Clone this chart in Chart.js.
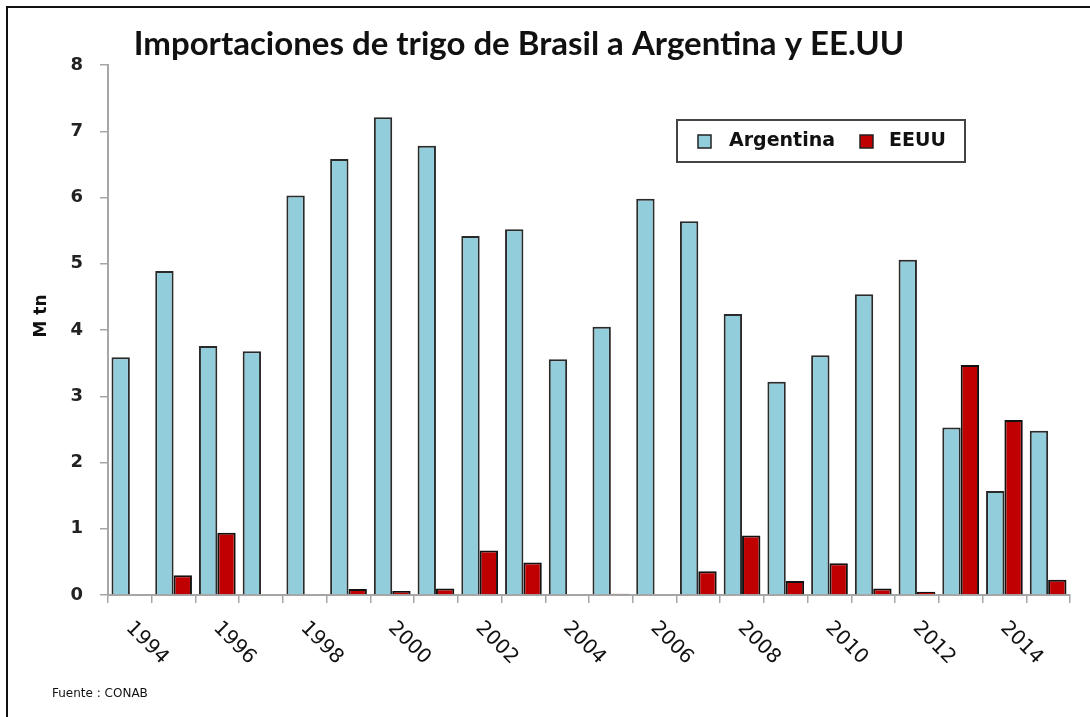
<!DOCTYPE html>
<html><head><meta charset="utf-8">
<script src="https://cdn.jsdelivr.net/npm/chart.js@4.4.1/dist/chart.umd.min.js"></script>
<style>
html,body{margin:0;padding:0;background:#fff;}
#wrap{position:relative;width:1090px;height:717px;overflow:hidden;background:#fff;}
#frame{position:absolute;left:6px;top:6px;width:1100px;height:730px;border:2px solid #111;box-sizing:border-box;pointer-events:none;}
canvas{position:absolute;left:0;top:0;}
</style></head><body>
<div id="wrap"><canvas id="c" width="1090" height="717"></canvas><div id="frame"></div></div>
<script>
const years = ['1994','1995','1996','1997','1998','1999','2000','2001','2002','2003','2004','2005','2006','2007','2008','2009','2010','2011','2012','2013','2014','2015'];
const tickLabels = ['1994','','1996','','1998','','2000','','2002','','2004','','2006','','2008','','2010','','2012','','2014',''];
const argentina = [3.59,4.89,3.76,3.68,6.03,6.58,7.21,6.78,5.42,5.52,3.56,4.05,5.98,5.64,4.24,3.22,3.62,4.54,5.06,2.53,1.57,2.48];
const eeuu = [0.01,0.30,0.94,0,0,0.09,0.06,0.10,0.67,0.49,0.01,0.02,0.01,0.36,0.90,0.21,0.48,0.10,0.05,3.47,2.64,0.23];
const seriesNames = ['Argentina','EEUU'];
const yTicks = [0,1,2,3,4,5,6,7,8];
const titleText = 'Importaciones de trigo de Brasil a Argentina y EE.UU';
const yTitle = 'M tn';
const sourceText = 'Fuente : CONAB';

const decor = {
  id:'decor',
  afterDraw(chart){
    const ctx = chart.ctx;
    const xs = chart.scales.x;
    ctx.save();
    // title
    ctx.fillStyle = '#111';
    ctx.font = 'bold 33px Lato';
    ctx.textAlign = 'center';
    ctx.textBaseline = 'alphabetic';
    ctx.fillText(titleText, 519, 55);
    // y title
    ctx.save();
    ctx.translate(42, 316);
    ctx.rotate(-Math.PI/2);
    ctx.font = 'bold 17px "DejaVu Sans"';
    ctx.textAlign = 'center';
    ctx.textBaseline = 'middle';
    ctx.fillText(yTitle, 0, 0);
    ctx.restore();
    // x labels
    ctx.font = '20px "DejaVu Sans"';
    ctx.fillStyle = '#111';
    tickLabels.forEach((lab,i)=>{
      if(!lab) return;
      const cx = xs.getPixelForValue(i);
      ctx.save();
      ctx.translate(cx+17, 643);
      ctx.rotate(Math.PI/4);
      ctx.textAlign='center'; ctx.textBaseline='middle';
      ctx.fillText(lab,0,0);
      ctx.restore();
    });
    // legend
    ctx.lineWidth = 2;
    ctx.strokeStyle = '#444';
    ctx.strokeRect(677,120,288,42);
    const ds = chart.data.datasets;
    const items = [{x:698, tx:729},{x:860, tx:889}];
    ctx.font = 'bold 19px "DejaVu Sans"';
    ctx.textAlign='left'; ctx.textBaseline='middle';
    items.forEach((it,k)=>{
      ctx.fillStyle = ds[k].backgroundColor;
      ctx.fillRect(it.x,135,13,13);
      ctx.lineWidth=1.5; ctx.strokeStyle='#222';
      ctx.strokeRect(it.x,135,13,13);
      ctx.fillStyle='#111';
      ctx.fillText(ds[k].label, it.tx, 141);
    });
    // source
    ctx.font = '12px "DejaVu Sans"';
    ctx.textAlign='left'; ctx.textBaseline='middle';
    ctx.fillText(sourceText, 52, 694);
    ctx.restore();
  }
};

new Chart(document.getElementById('c'), {
  type:'bar',
  data:{
    labels: years,
    datasets:[
      {label:seriesNames[0], data:argentina, backgroundColor:'#92CDDC', borderColor:'#2a2a2a', borderWidth:2, categoryPercentage:0.84, barPercentage:1.0},
      {label:seriesNames[1], data:eeuu, backgroundColor:'#C00000', borderColor:'#111', borderWidth:2, categoryPercentage:0.84, barPercentage:1.0}
    ]
  },
  options:{
    responsive:false, animation:false, devicePixelRatio:1,
    layout:{padding:{top:65,right:20,left:0,bottom:0}},
    plugins:{legend:{display:false}, title:{display:false}, tooltip:{enabled:false}},
    scales:{
      x:{
        offset:true,
        grid:{display:true, offset:true, drawOnChartArea:false, drawTicks:true, tickLength:8, color:'#a6a6a6', lineWidth:1.5},
        border:{color:'#a6a6a6', width:2},
        ticks:{autoSkip:false, maxRotation:0, minRotation:0, color:'rgba(0,0,0,0)', callback:(v,i)=>tickLabels[i]},
        afterFit:(s)=>{s.height=122;}
      },
      y:{
        min:yTicks[0], max:yTicks[yTicks.length-1],
        afterBuildTicks:(s)=>{s.ticks = yTicks.map(v=>({value:v}));},
        ticks:{color:'#222', font:{family:'DejaVu Sans', weight:'bold', size:18}, padding:17},
        grid:{drawOnChartArea:false, drawTicks:true, tickLength:8, color:'#a6a6a6', lineWidth:1.5},
        border:{color:'#a6a6a6', width:2},
        afterFit:(s)=>{s.width=108;}
      }
    }
  },
  plugins:[decor]
});
</script>
</body></html>
